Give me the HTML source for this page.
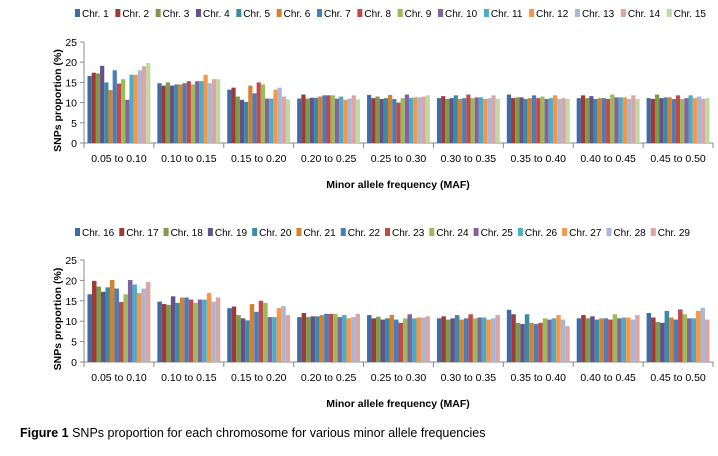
<!DOCTYPE html>
<html><head><meta charset="utf-8"><style>
body{margin:0;background:#fff;font-family:"Liberation Sans",sans-serif;}
svg text{font-family:"Liberation Sans",sans-serif;}
</style></head><body>
<svg id="s" width="718" height="451" xmlns="http://www.w3.org/2000/svg">
<text x="20" y="437" font-size="12.5" fill="#000"><tspan font-weight="bold">Figure 1</tspan> SNPs proportion for each chromosome for various minor allele frequencies</text>
</svg>
<script>
const categories=["0.05 to 0.10","0.10 to 0.15","0.15 to 0.20","0.20 to 0.25","0.25 to 0.30","0.30 to 0.35","0.35 to 0.40","0.40 to 0.45","0.45 to 0.50"];
const yTicks=[0,5,10,15,20,25];
const colors=["#3F6CA6","#9E3B38","#7F9A48","#65508A","#3A8CA6","#D5822F","#4A7EBB","#BE4B48","#9BBB59","#8064A2","#4BACC6","#F79646","#A9B7D6","#D9A5A5","#C3D6A4"];
const topNames=["Chr. 1","Chr. 2","Chr. 3","Chr. 4","Chr. 5","Chr. 6","Chr. 7","Chr. 8","Chr. 9","Chr. 10","Chr. 11","Chr. 12","Chr. 13","Chr. 14","Chr. 15"];
const bottomNames=["Chr. 16","Chr. 17","Chr. 18","Chr. 19","Chr. 20","Chr. 21","Chr. 22","Chr. 23","Chr. 24","Chr. 25","Chr. 26","Chr. 27","Chr. 28","Chr. 29"];
const topG1=[16.6,17.4,17.2,19.1,15.0,13.1,18.0,14.7,15.8,10.7,16.9,16.9,18.0,19.0,19.8];
const topG2=[14.8,14.2,15.0,14.2,14.5,14.5,14.8,15.3,14.5,15.3,15.3,16.9,14.8,15.8,15.8];
const topG3=[13.2,13.7,11.5,10.7,10.2,14.2,12.3,15.0,14.5,11.0,11.0,13.2,13.7,11.5,10.8];
const topG4=[11.0,12.0,11.0,11.2,11.2,11.5,11.8,11.8,11.8,11.0,11.5,10.7,11.0,11.8,10.8];
const topG5=[11.9,11.1,11.5,10.9,11.1,11.9,10.9,10.0,11.1,12.0,11.2,11.3,11.3,11.5,11.8];
const topG6=[11.1,11.6,10.9,11.1,11.8,10.9,11.1,12.0,11.1,11.3,11.3,10.9,11.1,11.8,10.9];
const topG7=[12.0,11.1,11.3,11.3,10.9,11.1,11.8,11.1,11.5,10.9,11.1,11.8,10.9,11.1,10.9];
const topG8=[11.1,11.8,11.1,11.6,10.9,11.1,11.1,10.9,12.0,11.3,11.3,11.3,10.9,11.8,10.9];
const topG9=[11.1,10.9,12.0,11.1,11.3,11.3,10.9,11.8,10.9,11.1,11.8,11.1,11.5,10.9,11.1];
const botG1=[16.6,19.9,18.5,17.2,18.3,20.1,18.0,14.7,16.6,20.1,19.0,16.9,18.0,19.6];
const botG2=[14.8,14.2,14.0,16.1,14.5,15.8,15.8,15.3,14.5,15.3,15.3,16.9,14.8,15.8];
const botG3=[13.2,13.6,11.5,10.7,10.2,14.2,12.3,15.0,14.5,11.0,11.0,13.2,13.7,11.5];
const botG4=[11.0,12.0,11.0,11.2,11.2,11.5,11.8,11.8,11.8,11.0,11.5,10.7,11.0,11.8];
const botG5=[11.5,10.7,11.1,10.4,10.7,11.5,10.4,9.6,10.7,11.7,10.7,10.9,10.9,11.2];
const botG6=[10.7,11.2,10.4,10.7,11.5,10.4,10.7,11.7,10.7,10.9,10.9,10.4,10.7,11.5];
const botG7=[12.8,11.7,9.6,9.3,11.7,9.6,9.3,9.6,10.7,10.4,10.7,11.5,10.4,8.8];
const botG8=[10.7,11.5,10.7,11.2,10.4,10.7,10.7,10.4,11.7,10.7,10.9,10.9,10.4,11.5];
const botG9=[12.0,10.9,9.8,9.6,12.5,10.9,10.4,12.9,11.7,10.7,10.7,12.5,13.3,10.4];
const topData=[topG1,topG2,topG3,topG4,topG5,topG6,topG7,topG8,topG9];
const botData=[botG1,botG2,botG3,botG4,botG5,botG6,botG7,botG8,botG9];

const NS="http://www.w3.org/2000/svg";
const svg=document.getElementById('s');
function mk(tag,attrs,parent){const e=document.createElementNS(NS,tag);for(const k in attrs)e.setAttribute(k,attrs[k]);(parent||svg).appendChild(e);return e;}

function chart(prefix,data,names,y0,y25,legendY,legendEnd){
  const g=mk('g',{});
  
  
  const x0=84,x1=713,cw=(x1-x0)/categories.length;
  const ys=v=>y0-(v/25)*(y0-y25);
  const lg=mk('g',{},g);
  
  
  const items=[];let total=0;
  names.forEach((n,i)=>{
    const it=mk('g',{},lg);
    
    
    const r=mk('rect',{x:0,y:legendY-7,width:5,height:8,fill:colors[i]},it);
    const t=mk('text',{x:0,y:legendY+1,'font-size':10,fill:'#000'},it);
    t.textContent=n;
    const w=t.getComputedTextLength();
    items.push([r,t,w]);total+=7+w;
  });
  const gap=(legendEnd-75-total)/(names.length-1);
  let lx=75;
  items.forEach(([r,t,w])=>{r.setAttribute('x',lx);t.setAttribute('x',lx+7);lx+=7+w+gap;});
  mk('line',{x1:x0,y1:y25,x2:x0,y2:y0,stroke:'#888','stroke-width':1},g);
  yTicks.forEach(v=>{
    const y=ys(v);
    mk('line',{x1:x0-4,y1:y,x2:x0,y2:y,stroke:'#888'},g);
    const t=mk('text',{x:x0-7,y:y+4,'font-size':10.5,'text-anchor':'end',fill:'#000'},g);
    
    
    t.textContent=v;
  });
  mk('line',{x1:x0,y1:y0,x2:x1,y2:y0,stroke:'#888'},g);
  for(let i=0;i<=categories.length;i++){const x=x0+i*cw;mk('line',{x1:x,y1:y0,x2:x,y2:y0+5,stroke:'#888'},g);}
  const n=names.length, inner=cw*0.9, bw=inner/n;
  data.forEach((grp,ci)=>{
    const gx=x0+ci*cw+(cw-inner)/2;
    grp.forEach((v,si)=>{
      const r=mk('rect',{x:gx+si*bw,y:ys(v),width:bw,height:y0-ys(v),fill:colors[si]},g);
      
      
    });
    const t=mk('text',{x:x0+ci*cw+cw/2,y:y0+19,'font-size':10.5,'text-anchor':'middle',fill:'#000'},g);
    
    
    t.textContent=categories[ci];
  });
  const xt=mk('text',{x:398,y:y0+45,'font-size':10.5,'font-weight':'bold','text-anchor':'middle',fill:'#000'},g);
  
  
  xt.textContent='Minor allele frequency (MAF)';
  const yt=mk('text',{x:0,y:0,'font-size':10.5,'font-weight':'bold','text-anchor':'middle',fill:'#000',transform:`translate(61,${(y0+y25)/2+8}) rotate(-90)`},g);
  
  
  yt.textContent='SNPs  proportion (%)';
}
chart('top',topData,topNames,143,42,16,706);
chart('bottom',botData,bottomNames,362,260,235,690);
</script>
</body></html>
